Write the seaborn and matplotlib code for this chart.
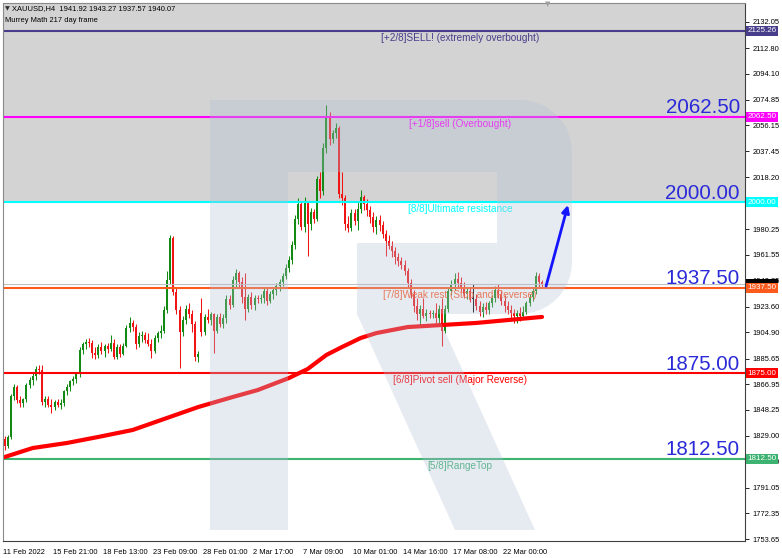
import matplotlib
matplotlib.use("Agg")
import matplotlib.pyplot as plt
import numpy as np
import seaborn as sns
from matplotlib.patches import Polygon

# ---------------- data ----------------
opens = [1827, 1822, 1828, 1858, 1865, 1855, 1853, 1856, 1866, 1870,
         1873, 1878, 1877, 1854, 1856, 1852, 1850, 1854, 1852, 1853,
         1862, 1865, 1869, 1871, 1874, 1892, 1896, 1898, 1897, 1890,
         1888, 1894, 1891, 1895, 1893, 1897, 1887, 1894, 1889, 1895,
         1908, 1912, 1909, 1896, 1902, 1903, 1899, 1896, 1891, 1901,
         1904, 1906, 1921, 1943, 1974, 1934, 1921, 1905, 1914, 1922,
         1918, 1911, 1887, 1919, 1905, 1916, 1914, 1918, 1906, 1916,
         1911, 1915, 1929, 1925, 1943, 1948, 1942, 1931, 1922, 1931,
         1925, 1930, 1929, 1930, 1935, 1928, 1933, 1936, 1939, 1942,
         1946, 1952, 1958, 1969, 1988, 1999, 1982, 2000, 1984, 1993,
         1988, 2017, 2008, 2040, 2063, 2046, 2051, 2054, 2006, 2003,
         1984, 1981, 1992, 1986, 1995, 2004, 1999, 1994, 1989, 1982,
         1987, 1983, 1977, 1972, 1968, 1964, 1960, 1957, 1954, 1950,
         1941, 1933, 1924, 1918, 1922, 1917, 1919, 1918, 1919, 1915,
         1922, 1906, 1922, 1935, 1940, 1944, 1941, 1937, 1933, 1935,
         1929, 1929, 1924, 1920, 1923, 1921, 1926, 1930, 1936, 1933,
         1928, 1924, 1921, 1919, 1917, 1919, 1917, 1920, 1926, 1931,
         1935, 1946, 1941.92]
highs = [1829, 1830, 1860, 1867, 1866, 1858, 1857, 1868, 1872, 1875,
         1880, 1881, 1881, 1858, 1858, 1856, 1855, 1856, 1856, 1863,
         1867, 1870, 1873, 1876, 1894, 1898, 1900, 1901, 1899, 1894,
         1896, 1898, 1896, 1897, 1903, 1900, 1896, 1896, 1897, 1910,
         1916, 1914, 1911, 1905, 1906, 1905, 1904, 1900, 1903, 1906,
         1910, 1924, 1950, 1976, 1975, 1937, 1924, 1917, 1925, 1926,
         1921, 1913, 1891, 1930, 1918, 1922, 1920, 1919, 1918, 1919,
         1918, 1932, 1932, 1946, 1951, 1950, 1945, 1948, 1933, 1934,
         1932, 1932, 1933, 1937, 1938, 1935, 1938, 1941, 1944, 1948,
         1955, 1961, 1972, 1991, 2003, 2001, 2004, 2001, 1996, 1995,
         2019, 2022, 2043, 2071, 2066, 2053, 2058, 2056, 2022, 2005,
         1990, 1995, 1995, 2000, 2009, 2005, 2002, 1997, 1993, 1990,
         1991, 1986, 1980, 1976, 1972, 1967, 1963, 1960, 1958, 1952,
         1944, 1936, 1930, 1925, 1930, 1922, 1921, 1921, 1926, 1925,
         1930, 1925, 1938, 1943, 1948, 1949, 1945, 1942, 1938, 1937,
         1940, 1933, 1928, 1926, 1927, 1928, 1932, 1939, 1940, 1936,
         1932, 1928, 1925, 1922, 1921, 1923, 1924, 1928, 1933, 1937,
         1949, 1948, 1943.27]
lows = [1819, 1820, 1827, 1855, 1853, 1850, 1850, 1854, 1864, 1866,
        1870, 1874, 1852, 1850, 1850, 1846, 1848, 1850, 1849, 1851,
        1859, 1862, 1866, 1868, 1872, 1889, 1893, 1894, 1886, 1885,
        1886, 1889, 1887, 1890, 1891, 1885, 1885, 1887, 1888, 1894,
        1905, 1906, 1893, 1894, 1898, 1897, 1895, 1886, 1890, 1898,
        1901, 1904, 1919, 1940, 1932, 1918, 1879, 1902, 1911, 1915,
        1905, 1884, 1883, 1902, 1903, 1912, 1910, 1890, 1904, 1909,
        1908, 1912, 1922, 1923, 1938, 1938, 1926, 1914, 1920, 1922,
        1921, 1926, 1926, 1926, 1925, 1926, 1929, 1932, 1935, 1939,
        1944, 1949, 1955, 1966, 1984, 1980, 1978, 1961, 1980, 1985,
        1986, 2003, 2005, 2036, 2042, 2043, 2047, 2003, 1998, 1980,
        1978, 1979, 1983, 1980, 1992, 1994, 1990, 1985, 1978, 1977,
        1979, 1974, 1961, 1966, 1960, 1955, 1953, 1951, 1947, 1938,
        1930, 1920, 1914, 1910, 1915, 1913, 1915, 1915, 1912, 1911,
        1895, 1904, 1920, 1932, 1936, 1938, 1934, 1930, 1929, 1927,
        1920, 1921, 1917, 1916, 1918, 1918, 1923, 1927, 1930, 1925,
        1920, 1918, 1914, 1912, 1912, 1913, 1915, 1918, 1924, 1928,
        1933, 1938, 1937.57]
closes = [1822, 1828, 1858, 1865, 1855, 1853, 1856, 1866, 1870, 1873,
          1878, 1877, 1854, 1856, 1852, 1850, 1854, 1852, 1853, 1862,
          1865, 1869, 1871, 1874, 1892, 1896, 1898, 1897, 1890, 1888,
          1894, 1891, 1895, 1893, 1897, 1887, 1894, 1889, 1895, 1908,
          1912, 1909, 1896, 1902, 1903, 1899, 1896, 1891, 1901, 1904,
          1906, 1921, 1943, 1974, 1934, 1921, 1905, 1914, 1922, 1918,
          1911, 1887, 1889, 1905, 1916, 1914, 1918, 1906, 1916, 1911,
          1915, 1929, 1925, 1943, 1948, 1942, 1931, 1922, 1931, 1925,
          1930, 1929, 1930, 1935, 1928, 1933, 1936, 1939, 1942, 1946,
          1952, 1958, 1969, 1988, 1999, 1982, 2000, 1984, 1993, 1988,
          2017, 2008, 2040, 2063, 2046, 2051, 2054, 2006, 2003, 1984,
          1981, 1992, 1986, 1995, 2004, 1999, 1994, 1989, 1982, 1987,
          1983, 1977, 1972, 1968, 1964, 1960, 1957, 1954, 1950, 1941,
          1933, 1924, 1918, 1922, 1917, 1919, 1918, 1919, 1915, 1922,
          1906, 1922, 1935, 1940, 1944, 1941, 1937, 1933, 1935, 1929,
          1929, 1924, 1920, 1923, 1921, 1926, 1930, 1936, 1933, 1928,
          1924, 1921, 1919, 1917, 1919, 1917, 1920, 1926, 1931, 1935,
          1946, 1942, 1940.07]

# moving average (thick red line) read at a set of bar positions
ma_bars = [0, 9, 20, 30, 41, 52, 62, 73, 81, 91, 97, 103, 108, 114, 119, 129, 140, 151, 161, 172]
ma_vals = [1813.6, 1820.2, 1823.9, 1828.3, 1833.4, 1842.2, 1850.2, 1857.5, 1862.6, 1871.4,
           1878.0, 1888.3, 1894.1, 1900.7, 1904.3, 1908.7, 1910.2, 1911.7, 1913.8, 1916.1]

# Murrey math levels
levels = [2125.26, 2062.50, 2000.00, 1937.50, 1875.00, 1812.50]
level_names = ["[+2/8]SELL! (extremely overbought)", "[+1/8]sell (Overbought)",
               "[8/8]Ultimate resistance", "[7/8]Weak rest (Stop and Reverse)",
               "[6/8]Pivot sell (Major Reverse)", "[5/8]RangeTop"]
level_colors = ["#483d8b", "#ff00ff", "#00ffff", "#ff5a1e", "#ff0000", "#3cb371"]
big_levels = [2062.50, 2000.00, 1937.50, 1875.00, 1812.50]
zone_low = 2000.00
bid_price = 1940.07

ytick_vals = [2132.05, 2112.80, 2094.10, 2074.85, 2056.15, 2037.45, 2018.20,
              1980.25, 1961.55, 1942.85, 1923.60, 1904.90, 1885.65, 1866.95, 1848.25,
              1829.00, 1810.30, 1791.05, 1772.35, 1753.65]
xtick_labels = ["11 Feb 2022", "15 Feb 21:00", "18 Feb 13:00", "23 Feb 09:00",
                "28 Feb 01:00", "2 Mar 17:00", "7 Mar 09:00", "10 Mar 01:00",
                "14 Mar 16:00", "17 Mar 08:00", "22 Mar 00:00"]
bars_per_tick = 16

arrow_x = [173.3, 180.3]
arrow_y = [1938.7, 1998.0]

header_line1 = "XAUUSD,H4  1941.92 1943.27 1937.57 1940.07"
header_line2 = "Murrey Math 217 day frame"

# ---------------- figure ----------------
sns.set_style("white")
plt.rcParams['font.family'] = ['Liberation Sans', 'DejaVu Sans']
SMALL = 5.4

W, H = 782, 558
fig = plt.figure(figsize=(W / 100, H / 100), dpi=100)
ax = fig.add_axes([3 / W, (H - 541) / H, 742 / W, 538 / H])
ymin, ymax = 1752.19, 2145.73
ax.set_xlim(-0.48, 236.96)
ax.set_ylim(ymin, ymax)
ax.set_facecolor("white")

# overbought zone
ax.axhspan(zone_low, ymax, color="#d3d3d3", lw=0, zorder=0)

# candles
o = np.array(opens, float); c = np.array(closes, float)
h = np.array(highs, float); l = np.array(lows, float)
idx = np.arange(len(c))
cols = np.where(c > o, "#138a13", np.where(c < o, "#f01414", "#000000"))
ax.vlines(idx, l, h, colors=cols, lw=0.75, zorder=3)
ax.bar(idx, np.maximum(np.abs(c - o), 0.8), bottom=np.minimum(o, c), width=0.64,
       color=cols, linewidth=0, zorder=3)

# moving average
sns.lineplot(x=ma_bars, y=ma_vals, color="#ff0000", linewidth=3.0, ax=ax, zorder=4,
             legend=False)

# bid line
ax.axhline(bid_price, color="#c0c0c0", lw=0.8, zorder=3.2)

# level lines and labels
for lv, name, col in zip(levels, level_names, level_colors):
    ax.axhline(lv, color=col, lw=1.5, zorder=3.5)
    ax.annotate(name, xy=(0.616, lv), xycoords=("axes fraction", "data"),
                xytext=(0, -1.5), textcoords="offset points", ha="center", va="top",
                fontsize=7.2, color=col, zorder=3.6)
for lv in big_levels:
    ax.annotate(f"{lv:.2f}", xy=(0.993, lv), xycoords=("axes fraction", "data"),
                xytext=(0, 2.4), textcoords="offset points", ha="right", va="baseline",
                fontsize=14.8, color="#2a2ad8", zorder=3.6)

# arrow
ax.annotate("", xy=(arrow_x[1], arrow_y[1]), xytext=(arrow_x[0], arrow_y[0]),
            arrowprops=dict(arrowstyle="-|>", color="#1414ff", lw=2.0,
                            mutation_scale=11, shrinkA=0, shrinkB=0), zorder=6)

# watermark "R" (decoration, in axes fraction)
def arc(cx, cy, r, a0, a1, n=12):
    t = np.radians(np.linspace(a0, a1, n))
    return [(cx + r * np.cos(tt), cy - r * np.sin(tt)) for tt in t]

wm_px = ([(210, 100)] + arc(520, 152, 52, 90, 0) + arc(520, 262, 52, 0, -90) +
         [(437, 314), (535, 530), (455, 530), (357, 314), (357, 243), (497, 243),
          (497, 172), (288, 172), (288, 530), (210, 530)])
wm = [((x - 3) / 742, (541 - y) / 538) for x, y in wm_px]
ax.add_patch(Polygon(wm, closed=True, transform=ax.transAxes, facecolor="#b2bed6",
                     alpha=0.32, lw=0, zorder=5))

# axes styling
for side, sp in ax.spines.items():
    sp.set_visible(True)
    sp.set_linewidth(0.8)
    sp.set_color("#404040" if side in ("right", "bottom") else "#8a8a8a")
    sp.set_zorder(7)

ax.yaxis.tick_right()
ax.set_yticks(ytick_vals)
ax.set_yticklabels([f"{v:.2f}" for v in ytick_vals])
ax.tick_params(axis="y", direction="out", length=3, width=0.6, pad=2.5,
               labelsize=SMALL, colors="black")
ax.set_xticks([bars_per_tick * k - 0.5 for k in range(len(xtick_labels))])
ax.set_xticklabels(xtick_labels, ha="left")
ax.tick_params(axis="x", direction="out", length=4, width=0.6, pad=1.5,
               labelsize=SMALL, colors="black")
ax.set_xlabel(""); ax.set_ylabel("")

# right-axis price boxes
BOX = 5.8
def price_box(val, col, z, tcol="white"):
    ax.annotate(f"{val:.2f}", xy=(1, val), xycoords=("axes fraction", "data"),
                xytext=(1.9, 0), textcoords="offset points", ha="left", va="center",
                fontsize=BOX, color=tcol, annotation_clip=False, zorder=z,
                bbox=dict(boxstyle="square,pad=0.18", fc=col, ec="none"))

price_box(bid_price, "#000000", 10, tcol="#000000")
for i, (lv, col) in enumerate(zip(levels, level_colors)):
    price_box(lv, col, 11 + i)

# header texts
fig.text(5 / W, 1 - 9 / H, "\u25bc", fontsize=4.5, va="center", ha="left",
         color="#303030", family=["DejaVu Sans"])
fig.text(12 / W, 1 - 9 / H, header_line1, fontsize=SMALL, va="center", ha="left", color="black")
fig.text(5 / W, 1 - 20 / H, header_line2, fontsize=SMALL, va="center", ha="left", color="black")
fig.text(548 / W, 1 - 4 / H, "\u25bc", fontsize=5, va="center", ha="center", color="#a0a0a0",
         family=["DejaVu Sans"])

fig.savefig("out.png", dpi=100)
